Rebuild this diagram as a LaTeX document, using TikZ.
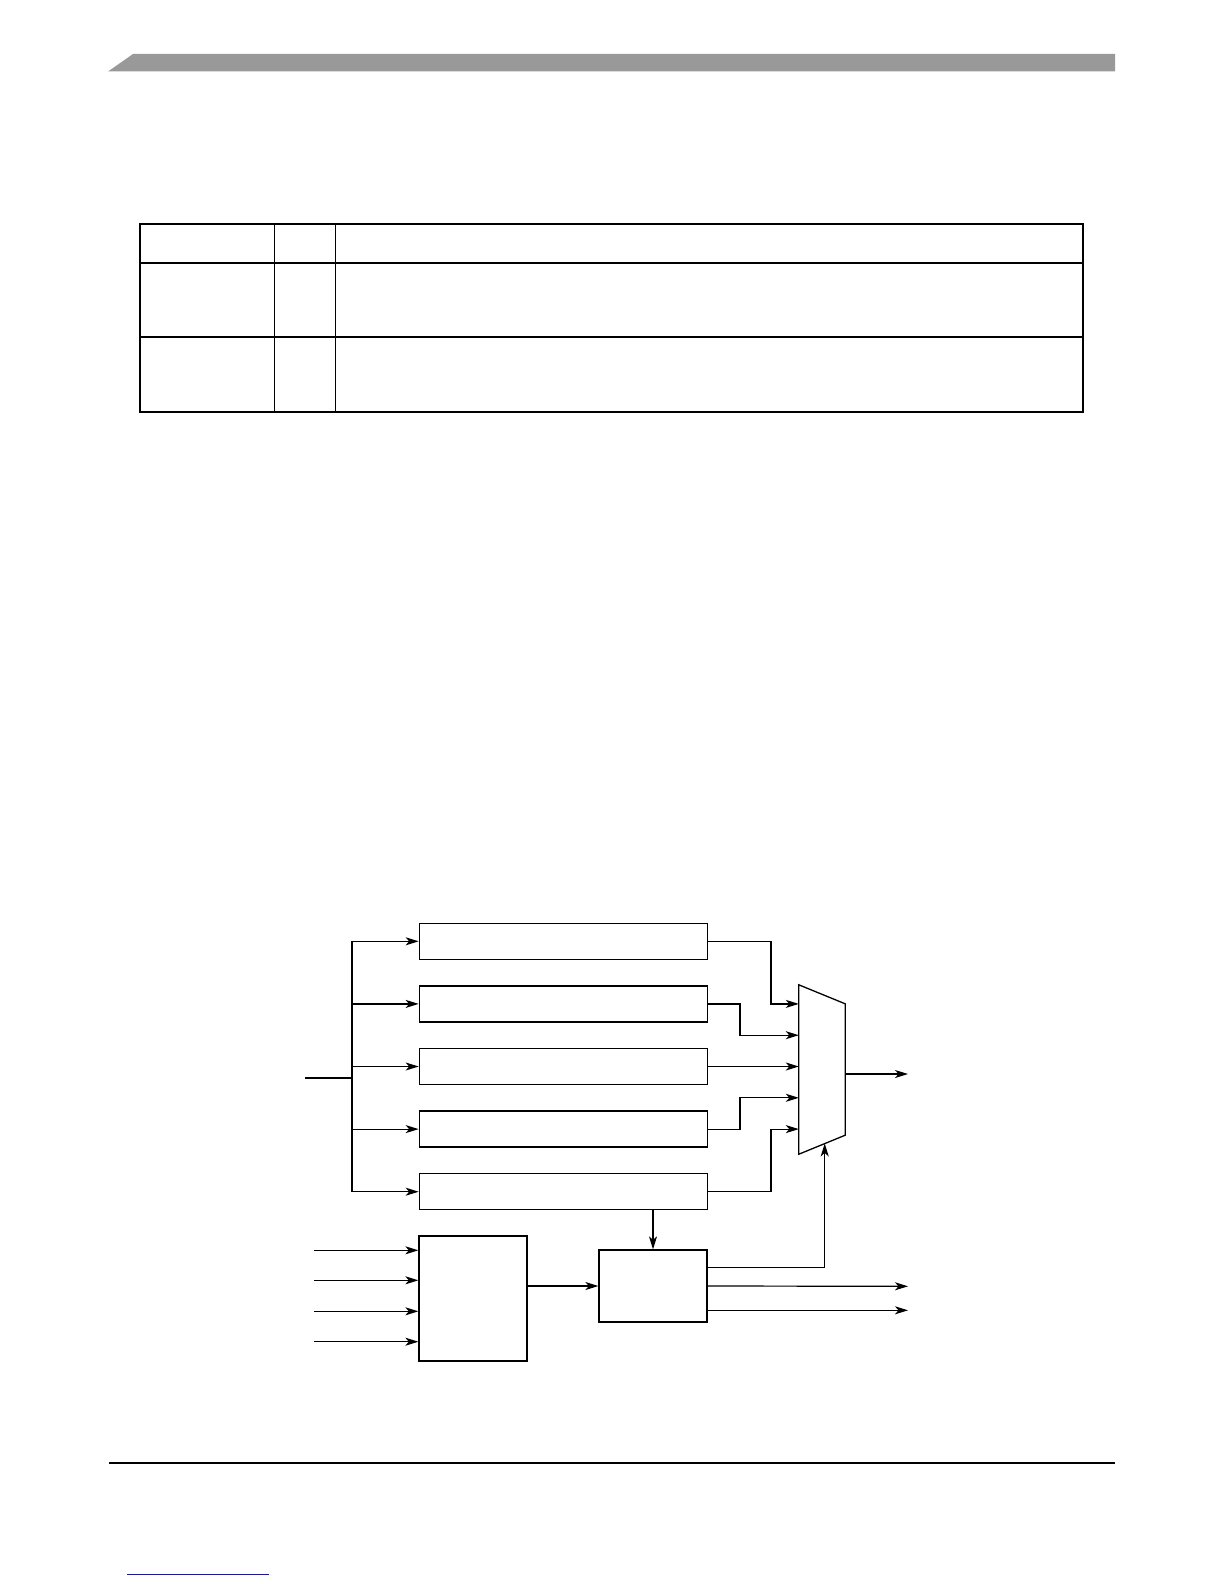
\documentclass[tikz,border=0pt]{standalone}
\usepackage{xcolor}
\usepackage{tikz}
\usetikzlibrary{arrows.meta, positioning, calc}
\definecolor{mydark}{RGB}{0,0,0}
\definecolor{hdrgray}{RGB}{153,153,153}
\definecolor{linkblue}{RGB}{25,25,150}
\tikzset{
  block/.style={rectangle, draw=mydark, fill=white,
    minimum width=288pt, minimum height=36pt, inner sep=0pt, line width=1.3pt},
  smallblock/.style={rectangle, draw=mydark, fill=white,
    minimum width=108pt, inner sep=0pt, line width=1.3pt},
  arrow/.style={-{Stealth[length=13pt,width=8pt,inset=3.5pt]}, line width=1.2pt, color=mydark},
  line/.style={line width=1.2pt, color=mydark}
}

\begin{document}
\begin{tikzpicture}[x=1pt, y=-1pt, node distance=25.3pt]
  \useasboundingbox (0,0) rectangle (1224,1584);
  % page header, footer, link
  \fill[hdrgray] (108,71.5) -- (133,54) -- (1115,54) -- (1115,71.5) -- cycle;
  \draw[line width=1.5pt] (109,1463) -- (1115,1463);
  \draw[linkblue, line width=1.2pt] (127,1574.5) -- (269,1574.5);
  % table
  \draw[line width=1.3pt] (140,224) rectangle (1083,412);
  \draw[line width=1.3pt] (140,263) -- (1083,263) (140,337) -- (1083,337);
  \draw[line width=1pt] (274,224) -- (274,412) (335,224) -- (335,412);

  % blocks
  \node[block] (filt1) at (563.3,941.3) {};
  \node[block, below=of filt1] (filt2) {};
  \node[block, below=of filt2] (filt3) {};
  \node[block, below=of filt3] (filt4) {};
  \node[block, below=of filt4] (filt5) {};
  \node[smallblock, minimum height=125pt] (sync) at (473,1298.5) {};
  \node[smallblock, minimum height=72pt] (ctrl) at (653,1286) {};
  \node[minimum width=46pt, minimum height=169pt, inner sep=0pt] (mux) at (822,1069.5) {};
  \draw[line width=1.3pt] (mux.north west) -- ($(mux.north east)+(0,19)$)
    -- ($(mux.south east)+(0,-19)$) -- (mux.south west) -- cycle;

  % input bus
  \coordinate (in) at (305,1078);
  \coordinate (bus) at (352,1078);
  \draw[line] (in) -- (bus);
  \draw[line] (bus |- filt1) -- (bus |- filt5);
  \foreach \i in {1,...,5}
    \draw[arrow] (bus |- filt\i) -- (filt\i.west);

  % into the mux
  \coordinate (mi2) at ($(mux.west |- filt2)!0.5!(mux.west |- filt3)$);
  \coordinate (mi4) at ($(mux.west |- filt3)!0.5!(mux.west |- filt4)$);
  \draw[arrow] (filt1.east) -| ([xshift=63pt]filt1.east |- filt2) -- (mux.west |- filt2);
  \draw[arrow] (filt2.east) -| ([xshift=32pt]filt2.east |- mi2) -- (mi2);
  \draw[arrow] (filt3.east) -- (mux.west |- filt3);
  \draw[arrow] (filt4.east) -| ([xshift=32pt]filt4.east |- mi4) -- (mi4);
  \draw[arrow] (filt5.east) -| ([xshift=63pt]filt5.east |- filt4) -- (mux.west |- filt4);
  \coordinate (out) at (908,1074);
  \draw[arrow] (mux.east |- out) -- (out);

  % control
  \draw[arrow] (filt5.south -| ctrl.north) -- (ctrl.north);
  \foreach \y [count=\k] in {1250.3,1280.3,1311.3,1341.7} {
    \coordinate (sin\k) at (314,\y);
    \draw[arrow] (sin\k) -- (sin\k -| sync.west);
  }
  \draw[arrow] (sync.east |- ctrl) -- (ctrl.west);
  \coordinate (sel) at ([yshift=-18pt]ctrl.north east);
  \coordinate (selend) at (824.7,1143.4);
  \draw[arrow] (sel) -| (selend);
  \coordinate (out2) at (908,1286.3);
  \coordinate (out3) at (908,1310.3);
  \draw[arrow] (ctrl.east) -- (out2);
  \draw[arrow] (ctrl.east |- out3) -- (out3);
\end{tikzpicture}
\end{document}
